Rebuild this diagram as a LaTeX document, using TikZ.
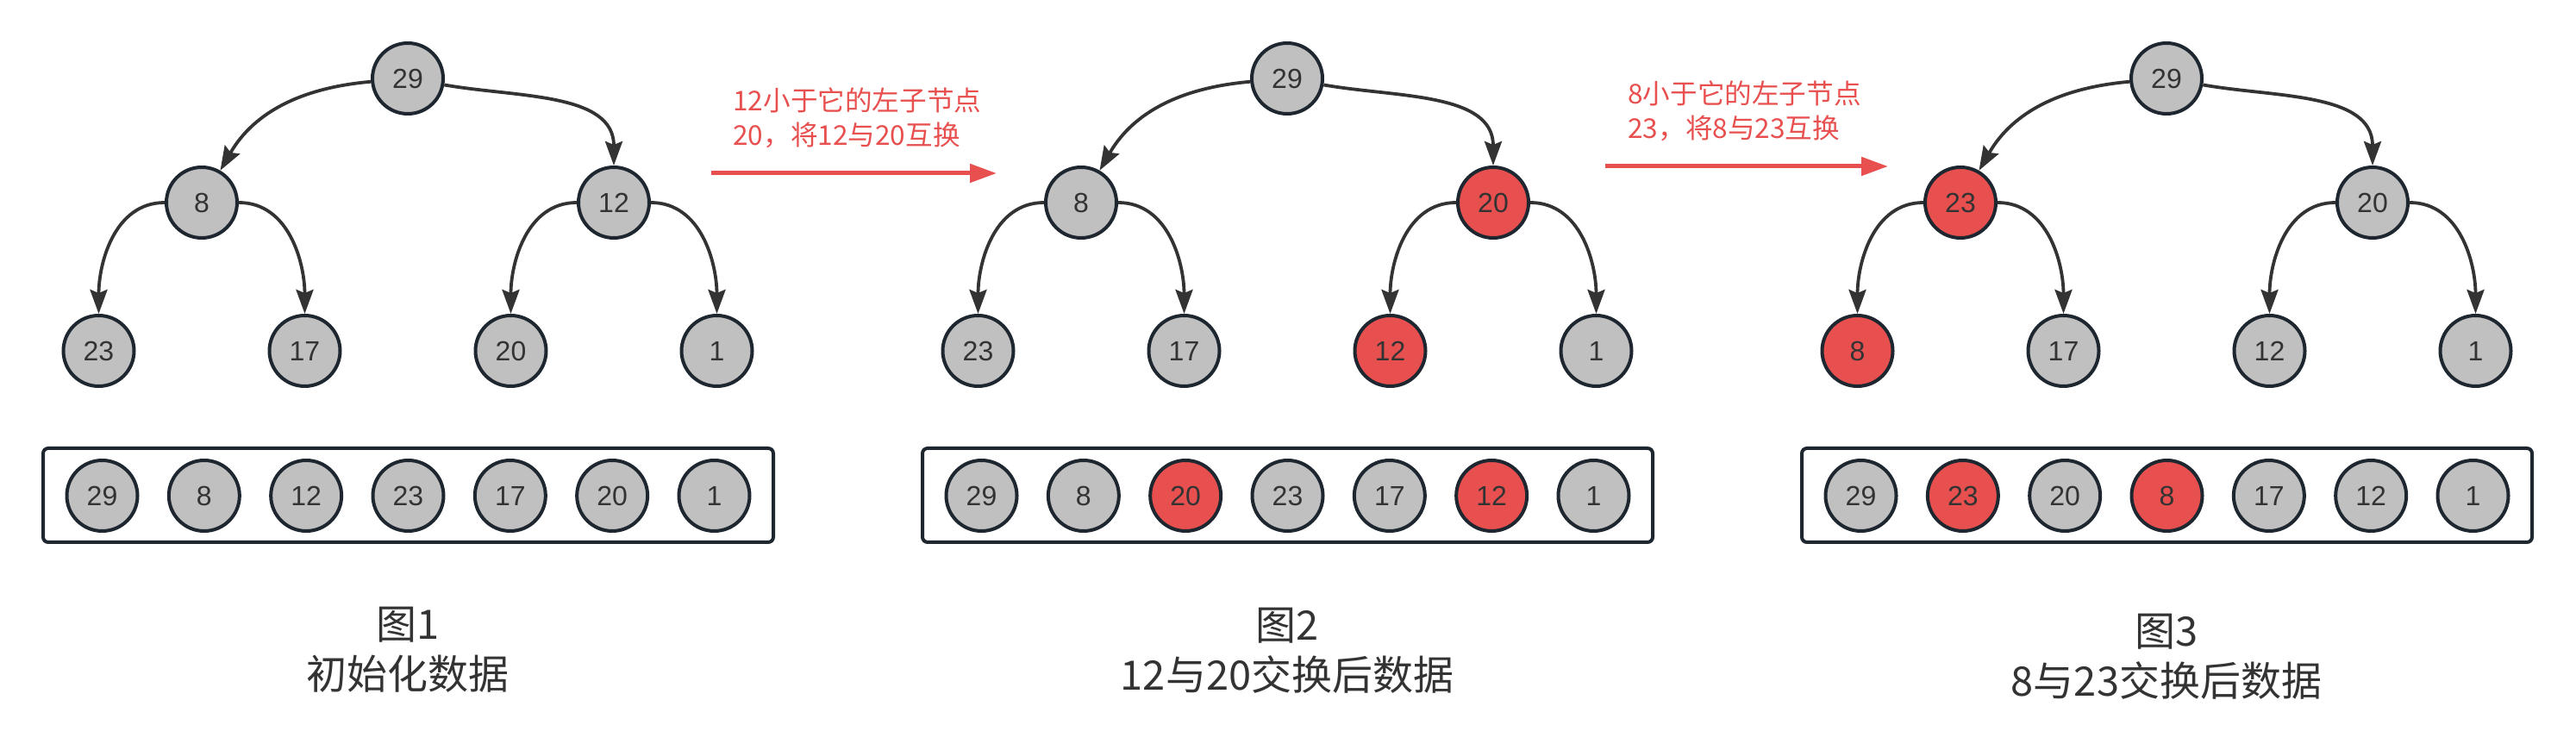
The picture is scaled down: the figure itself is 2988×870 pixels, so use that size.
\documentclass[tikz,border=0pt]{standalone}
\usepackage{fontspec}
\setmainfont{Liberation Sans}
\newfontfamily\cjk{Noto Sans CJK SC}
\usetikzlibrary{arrows.meta}

\definecolor{nodegray}{HTML}{C0C0C0}
\definecolor{hotred}{HTML}{E85050}
\definecolor{rimdark}{HTML}{1E2730}
\definecolor{linkgray}{HTML}{333333}
\definecolor{inkdark}{HTML}{333333}

\tikzset{
  heap/.style={circle,draw=rimdark,line width=2pt,fill=nodegray,minimum size=41pt,
    inner sep=0pt,text=inkdark,font=\fontsize{16}{16}\selectfont},
  hot/.style={fill=hotred},
  link/.style={draw=linkgray,line width=1.9pt,-{Stealth[length=14pt,width=10pt,inset=2pt]}},
  upleft/.style={edge from parent path={(\tikzparentnode) to[out=185,in=60] (\tikzchildnode)}},
  upright/.style={edge from parent path={(\tikzparentnode) to[out=-10,in=90] (\tikzchildnode)}},
  downleft/.style={edge from parent path={(\tikzparentnode) to[out=180,in=90] (\tikzchildnode)}},
  downright/.style={edge from parent path={(\tikzparentnode) to[out=0,in=90] (\tikzchildnode)}},
  arraybox/.style={draw=rimdark,line width=2pt,rounded corners=3pt,
    minimum width=423.5pt,minimum height=54.5pt},
  swapnote/.style={text=hotred,align=left,anchor=west,inner sep=0pt,
    font=\cjk\fontsize{15.8}{20}\selectfont},
  swaparrow/.style={draw=hotred,line width=2.5pt,-{Triangle[length=15.5pt,width=10.5pt]}},
  figcap/.style={text=inkdark,align=center,font=\cjk\fontsize{23.5}{29}\selectfont}
}

\begin{document}
\begin{tikzpicture}[x=0.5pt,y=-0.5pt,
  level 1/.style={sibling distance=239pt,level distance=72pt},
  level 2/.style={sibling distance=119.5pt,level distance=86pt},
  edge from parent/.style={link}]
\useasboundingbox (0,0) rectangle (2988,870);

% tree 1: initial data
\node[heap] (t1) at (473,91) {29}
  child[upleft] {node[heap] (t1a) {8}
    child[downleft] {node[heap] (t1aa) {23}}
    child[downright] {node[heap] (t1ab) {17}}
  }
  child[upright] {node[heap] (t1b) {12}
    child[downleft] {node[heap] (t1ba) {20}}
    child[downright] {node[heap] (t1bb) {1}}
  };

% tree 2: 12 swapped with 20
\node[heap] (t2) at (1493,91) {29}
  child[upleft] {node[heap] (t2a) {8}
    child[downleft] {node[heap] (t2aa) {23}}
    child[downright] {node[heap] (t2ab) {17}}
  }
  child[upright] {node[heap,hot] (t2b) {20}
    child[downleft] {node[heap,hot] (t2ba) {12}}
    child[downright] {node[heap] (t2bb) {1}}
  };

% tree 3: 8 swapped with 23
\node[heap] (t3) at (2513,91) {29}
  child[upleft] {node[heap,hot] (t3a) {23}
    child[downleft] {node[heap,hot] (t3aa) {8}}
    child[downright] {node[heap] (t3ab) {17}}
  }
  child[upright] {node[heap] (t3b) {20}
    child[downleft] {node[heap] (t3ba) {12}}
    child[downright] {node[heap] (t3bb) {1}}
  };

% arrays
\node[arraybox] (box1) at (473.5,574.5) {};
\foreach \v/\c [count=\i] in {29/nodegray,8/nodegray,12/nodegray,23/nodegray,17/nodegray,20/nodegray,1/nodegray}
  \node[heap,fill=\c] (a1-\i) at (473.5+118.33*\i-473.32,575) {\v};

\node[arraybox] (box2) at (1493.5,574.5) {};
\foreach \v/\c [count=\i] in {29/nodegray,8/nodegray,20/hotred,23/nodegray,17/nodegray,12/hotred,1/nodegray}
  \node[heap,fill=\c] (a2-\i) at (1493.5+118.33*\i-473.32,575) {\v};

\node[arraybox] (box3) at (2513.5,574.5) {};
\foreach \v/\c [count=\i] in {29/nodegray,23/hotred,20/nodegray,8/hotred,17/nodegray,12/nodegray,1/nodegray}
  \node[heap,fill=\c] (a3-\i) at (2513.5+118.33*\i-473.32,575) {\v};

% captions
\node[figcap] (cap1) at (473,754) {图1\\初始化数据};
\node[figcap] (cap2) at (1493,755) {图2\\12与20交换后数据};
\node[figcap] (cap3) at (2513,762) {图3\\8与23交换后数据};

% swap notes
\node[swapnote] (note1) at (850,137) {12小于它的左子节点\\20，将12与20互换};
\coordinate (s1) at (825,201);
\coordinate (e1) at (1156,201);
\draw[swaparrow] (s1) -- (e1);

\node[swapnote] (note2) at (1888,129) {8小于它的左子节点\\23，将8与23互换};
\coordinate (s2) at (1862,193);
\coordinate (e2) at (2190,193);
\draw[swaparrow] (s2) -- (e2);
\end{tikzpicture}
\end{document}
